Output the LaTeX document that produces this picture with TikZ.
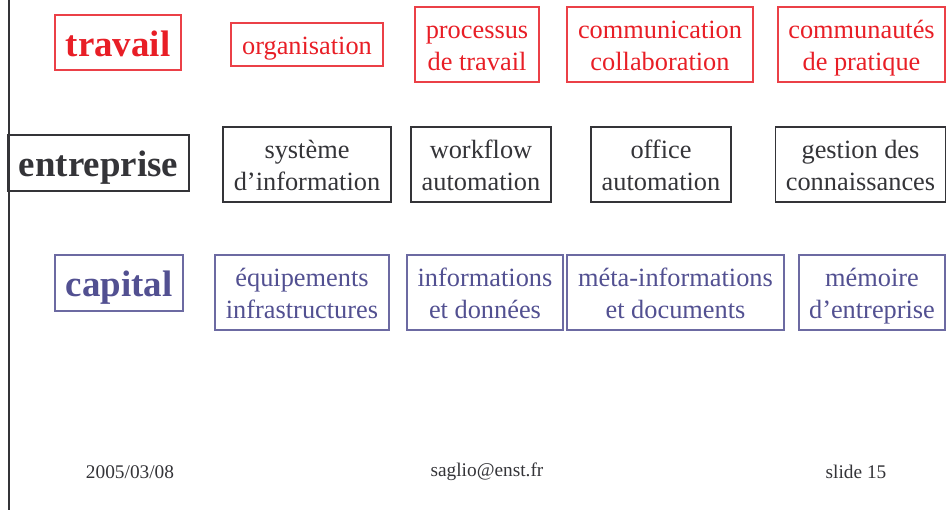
\documentclass[tikz,border=0pt]{standalone}
\usepackage{fontspec}
\setmainfont{Liberation Serif}
\definecolor{travailred}{RGB}{232,30,38}
\definecolor{entrgrey}{RGB}{52,52,56}
\definecolor{capblue}{RGB}{82,80,145}
\def\up{\rule{0pt}{15.2pt}}
\def\dn{\rule[-4pt]{0pt}{4pt}}
\def\headup{\rule{0pt}{20pt}}
\def\headdown{\rule[-4pt]{0pt}{4pt}}
\tikzset{
  cell/.style={draw, line width=0.7pt, inner sep=0pt, align=center,
    font=\fontsize{15}{18.2}\selectfont},
  head/.style={cell, font=\fontsize{21}{24}\selectfont\bfseries,
    execute at begin node=\headup, execute at end node=\headdown},
  redcell/.style={draw=travailred!85, text=travailred},
  greycell/.style={draw=entrgrey, text=entrgrey},
  bluecell/.style={draw=capblue!85, text=capblue},
  size/.style 2 args={minimum width=#1*0.02cm, minimum height=#2*0.02cm},
  foot/.style={text=entrgrey, font=\fontsize{11}{13}\selectfont}
}
\begin{document}
\begin{tikzpicture}[x=0.02cm, y=-0.02cm]
  \useasboundingbox (0,0) rectangle (947,510);
  \draw[entrgrey, line width=1.6pt] (9,0) -- (9,510);

  % travail
  \node[head, redcell, size={126}{55}] (travail) at (118,42.5) {travail};
  \node[cell, redcell, size={152}{43}] (organisation) at (307,44.5) {\up organisation\dn};
  \node[cell, redcell, size={124}{75}] (processus) at (477,44.5) {\up processus\\de travail\dn};
  \node[cell, redcell, size={186}{75}] (communication) at (660,44.5) {\up communication\\collaboration\dn};
  \node[cell, redcell, size={167}{75}] (communautes) at (861.5,44.5) {\up communautés\\de pratique\dn};

  % entreprise
  \node[head, greycell, size={181}{56}] (entreprise) at (98.5,163) {entreprise};
  \node[cell, greycell, size={168}{75}] (systeme) at (307,164.5) {\up système\\d’information\dn};
  \node[cell, greycell, size={140}{75}] (workflow) at (481,164.5) {\up workflow\\automation\dn};
  \node[cell, greycell, size={140}{75}] (office) at (661,164.5) {\up office\\automation\dn};
  \node[cell, greycell, size={170}{75}] (gestion) at (860.5,164.5) {\up gestion des\\connaissances\dn};

  % capital
  \node[head, bluecell, size={128}{56}] (capital) at (119,283) {capital};
  \node[cell, bluecell, size={174}{75}] (equipements) at (302,292.5) {\up équipements\\infrastructures\dn};
  \node[cell, bluecell, size={156}{75}] (informations) at (485,292.5) {\up informations\\et données\dn};
  \node[cell, bluecell, size={217}{75}] (meta) at (675.5,292.5) {\up méta-informations\\et documents\dn};
  \node[cell, bluecell, size={146}{75}] (memoire) at (872,292.5) {\up mémoire\\d’entreprise\dn};

  % footer
  \node[foot] (date) at (130,472) {2005/03/08};
  \node[foot] (mail) at (487,472) {saglio@enst.fr};
  \node[foot] (slide) at (856,472) {slide 15};
\end{tikzpicture}
\end{document}
